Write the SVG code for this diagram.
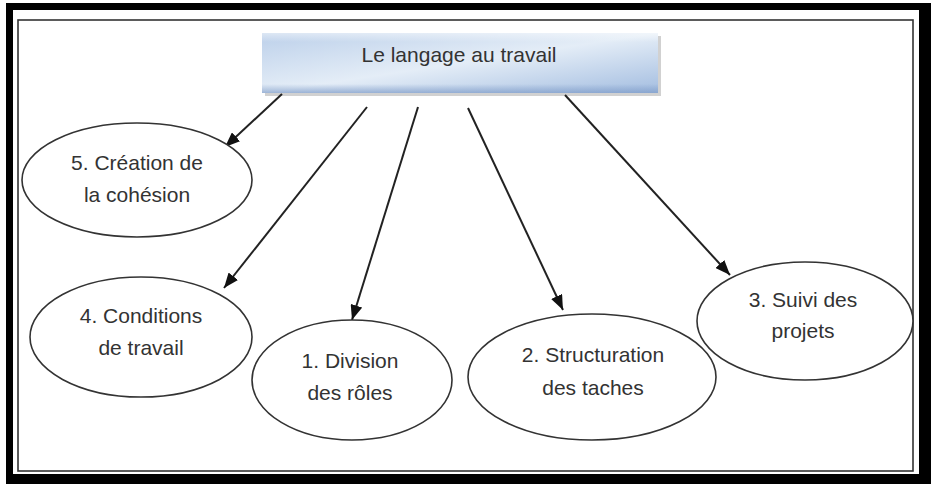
<svg xmlns="http://www.w3.org/2000/svg" width="931" height="484" viewBox="0 0 931 484">
  <defs>
    <linearGradient id="boxGrad" x1="0" y1="0" x2="1" y2="1">
      <stop offset="0" stop-color="#bcd0ea"/>
      <stop offset="0.5" stop-color="#e4edf7"/>
      <stop offset="1" stop-color="#a3bde0"/>
    </linearGradient>
    <linearGradient id="boxEdge" x1="0" y1="0" x2="0" y2="1">
      <stop offset="0" stop-color="#ffffff" stop-opacity="0.5"/>
      <stop offset="0.15" stop-color="#ffffff" stop-opacity="0"/>
      <stop offset="0.85" stop-color="#7f9cc8" stop-opacity="0"/>
      <stop offset="1" stop-color="#7f9cc8" stop-opacity="0.7"/>
    </linearGradient>
    <marker id="arrow" markerUnits="userSpaceOnUse" markerWidth="16" markerHeight="12" refX="15" refY="6" orient="auto">
      <path d="M0,0 L15,6 L0,12 z" fill="#111"/>
    </marker>
  </defs>
  <style>
    .node ellipse { fill: #ffffff; stroke: #333333; stroke-width: 1.6; }
    .label { font-family: "Liberation Sans", Arial, sans-serif; font-size: 21px; fill: #333333; text-anchor: middle; }
    .conn line { stroke: #222222; stroke-width: 2; marker-end: url(#arrow); }
  </style>

  <!-- frame -->
  <rect x="0" y="0" width="931" height="484" fill="#ffffff"/>
  <rect x="6" y="3" width="925" height="481" fill="#000000"/>
  <rect x="13" y="10" width="906" height="464" fill="#ffffff"/>
  <rect x="18" y="20" width="895" height="451" fill="none" stroke="#333333" stroke-width="1.6"/>

  <!-- title node -->
  <g id="title">
    <rect x="265" y="36" width="396" height="60" fill="#9a9a9a" opacity="0.45"/>
    <rect x="262" y="33" width="396" height="60" fill="url(#boxGrad)"/>
    <rect x="262" y="33" width="396" height="60" fill="url(#boxEdge)"/>
    <text class="label" x="459" y="62">Le langage au travail</text>
  </g>

  <!-- connectors -->
  <g id="connectors" class="conn">
    <line x1="282" y1="94" x2="225" y2="147"/>
    <line x1="367" y1="107" x2="224" y2="288"/>
    <line x1="418" y1="107" x2="352" y2="320"/>
    <line x1="468" y1="108" x2="563" y2="310"/>
    <line x1="565" y1="95" x2="730" y2="275"/>
  </g>

  <g id="n5" class="node">
    <ellipse cx="137" cy="180" rx="115" ry="57"/>
    <text class="label" x="137" y="170">5. Création de</text>
    <text class="label" x="137" y="202">la cohésion</text>
  </g>

  <g id="n4" class="node">
    <ellipse cx="141" cy="337" rx="111" ry="60"/>
    <text class="label" x="141" y="323">4. Conditions</text>
    <text class="label" x="141" y="355">de travail</text>
  </g>

  <g id="n1" class="node">
    <ellipse cx="352" cy="380" rx="100" ry="60"/>
    <text class="label" x="350" y="368">1. Division</text>
    <text class="label" x="350" y="400">des rôles</text>
  </g>

  <g id="n2" class="node">
    <ellipse cx="592" cy="377" rx="124" ry="63"/>
    <text class="label" x="593" y="362">2. Structuration</text>
    <text class="label" x="593" y="395">des taches</text>
  </g>

  <g id="n3" class="node">
    <ellipse cx="805" cy="321" rx="108" ry="59"/>
    <text class="label" x="803" y="307">3. Suivi des</text>
    <text class="label" x="803" y="338">projets</text>
  </g>
</svg>
